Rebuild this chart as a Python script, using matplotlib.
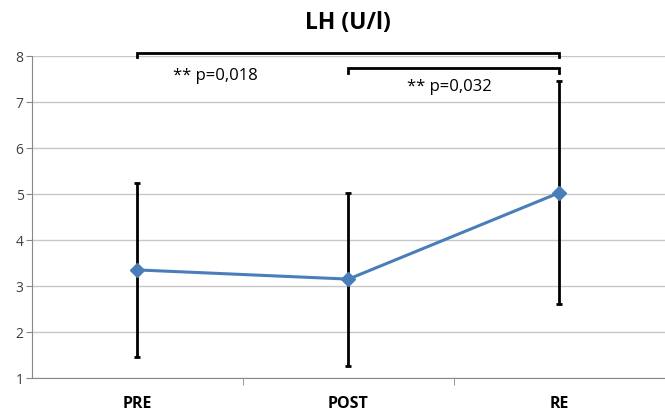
import numpy as np
import matplotlib as mpl
mpl.use('Agg')
import matplotlib.pyplot as plt

plt.rcParams['font.family'] = ['Open Sans', 'DejaVu Sans']

# data
groups = ['PRE', 'POST', 'RE']
lh_mean = [3.35, 3.15, 5.03]
lh_sd = [1.89, 1.88, 2.42]
pvals = ['** p=0,018', '** p=0,032']

fig = plt.figure(figsize=(6.65, 4.12), dpi=100)
ax = fig.add_axes([0.048, 0.0825, 0.952, 0.7815])

x = np.arange(len(groups))
ax.errorbar(x, lh_mean, yerr=lh_sd, fmt='none', ecolor='black',
            elinewidth=2, capsize=2.5, capthick=2, zorder=2)
ax.plot(x, lh_mean, color='#4A7EBB', lw=2.2, marker='D', ms=7,
        markeredgecolor='#4A7EBB', zorder=3)

ax.set_xlim(-0.5, 2.5)
ax.set_ylim(1, 8)
ax.set_yticks(range(1, 9))
ax.yaxis.grid(True, color='#c8c8c8', lw=1)
ax.set_axisbelow(True)
ax.set_xticks(x)
ax.set_xticklabels(groups, fontweight='bold', fontsize=11.5)
ax.set_xticks([0.5, 1.5, 2.5], minor=True)
ax.tick_params(axis='x', which='major', length=0, pad=13)
ax.tick_params(axis='x', which='minor', length=5, color='#888888')
ax.tick_params(axis='y', length=4, color='#888888', labelsize=10,
               labelcolor='#404040', pad=2)
for s in ['top', 'right']:
    ax.spines[s].set_visible(False)
for s in ['left', 'bottom']:
    ax.spines[s].set_color('#888888')

# significance brackets
def bracket(x0, x1, y, h, label, tx, ty):
    ax.plot([x0, x0, x1, x1], [y - h, y, y, y - h], color='black', lw=2,
            clip_on=False, solid_joinstyle='miter', zorder=4)
    ax.text(tx, ty, label, fontsize=12, ha='center', va='center')

bracket(0, 2, 8.06, 0.08, pvals[0], 0.37, 7.57)
bracket(1, 2, 7.75, 0.12, pvals[1], 1.48, 7.32)

fig.text(0.523, 0.945, 'LH (U/l)', fontsize=16.5, fontweight='bold',
         ha='center', va='center')

fig.savefig('out.png', dpi=100)
